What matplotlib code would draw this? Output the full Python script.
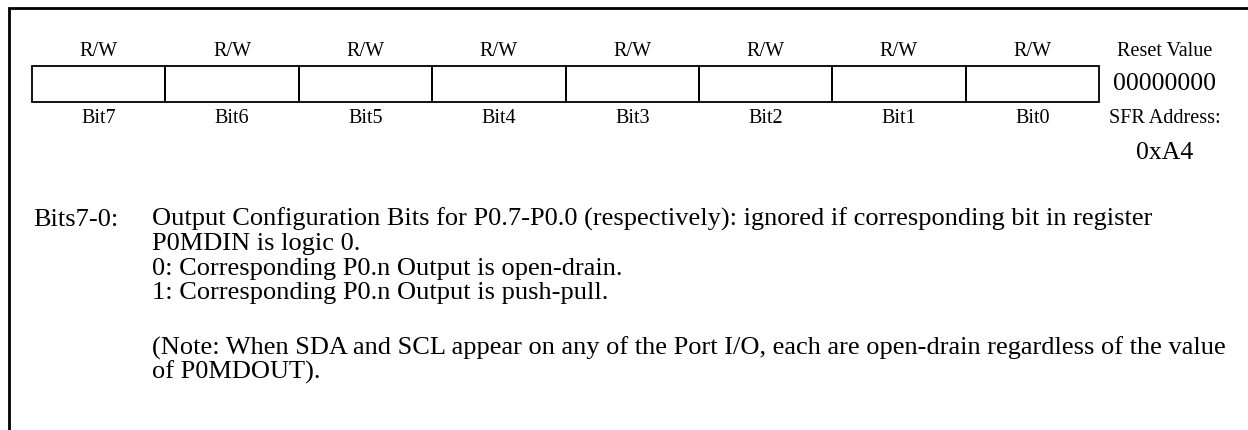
import matplotlib.pyplot as plt
from matplotlib.patches import Rectangle

# Register data
access = ['R/W', 'R/W', 'R/W', 'R/W', 'R/W', 'R/W', 'R/W', 'R/W']
bit_names = ['Bit7', 'Bit6', 'Bit5', 'Bit4', 'Bit3', 'Bit2', 'Bit1', 'Bit0']
reset_label = 'Reset Value'
reset_value = '00000000'
addr_label = 'SFR Address:'
addr_value = '0xA4'

field_name = 'Bits7-0:'
desc_par1 = ['Output Configuration Bits for P0.7-P0.0 (respectively): ignored if corresponding bit in register',
             'P0MDIN is logic 0.',
             '0: Corresponding P0.n Output is open-drain.',
             '1: Corresponding P0.n Output is push-pull.']
desc_par2 = ['(Note: When SDA and SCL appear on any of the Port I/O, each are open-drain regardless of the value',
             'of P0MDOUT).']

plt.rcParams['font.family'] = ['Liberation Serif', 'DejaVu Serif']

W, H = 1248, 431
fig = plt.figure(figsize=(W / 100, H / 100), dpi=100)
ax = fig.add_axes([0, 0, 1, 1])
ax.set_xlim(0, W)
ax.set_ylim(H, 0)
ax.axis('off')

# frame (top and left edges)
ax.plot([8.5, 8.5, W], [H, 8.5, 8.5], color='black', lw=2, solid_joinstyle='miter')

# register cells
box_left, box_right = 32, 1099
box_top, box_h = 67, 36
cell_w = (box_right - box_left) / len(bit_names)
for i, (acc, name) in enumerate(zip(access, bit_names)):
    x0 = box_left + i * cell_w
    ax.add_patch(Rectangle((x0, box_top), cell_w, box_h, fill=False, lw=1.3, edgecolor='black'))
    ax.text(x0 + cell_w / 2, 51, acc, ha='center', va='center', fontsize=14.5)
    ax.text(x0 + cell_w / 2, 119, name, ha='center', va='center', fontsize=14.5)

# right side info
rx = 1165
ax.text(rx, 51, reset_label, ha='center', va='center', fontsize=14.5)
ax.text(rx, 84, reset_value, ha='center', va='center', fontsize=18.5)
ax.text(rx, 119, addr_label, ha='center', va='center', fontsize=14.5)
ax.text(rx, 153, addr_value, ha='center', va='center', fontsize=18.5)

# description
fs = 19
step = 24.5
base = 226
ax.text(33, base, field_name, ha='left', va='baseline', fontsize=fs)
for k, line in enumerate(desc_par1):
    ax.text(152, base + k * step, line, ha='left', va='baseline', fontsize=fs)
base2 = base + (len(desc_par1) - 1) * step + 55
for k, line in enumerate(desc_par2):
    ax.text(152, base2 + k * step, line, ha='left', va='baseline', fontsize=fs)

fig.savefig('out.png', dpi=100)
